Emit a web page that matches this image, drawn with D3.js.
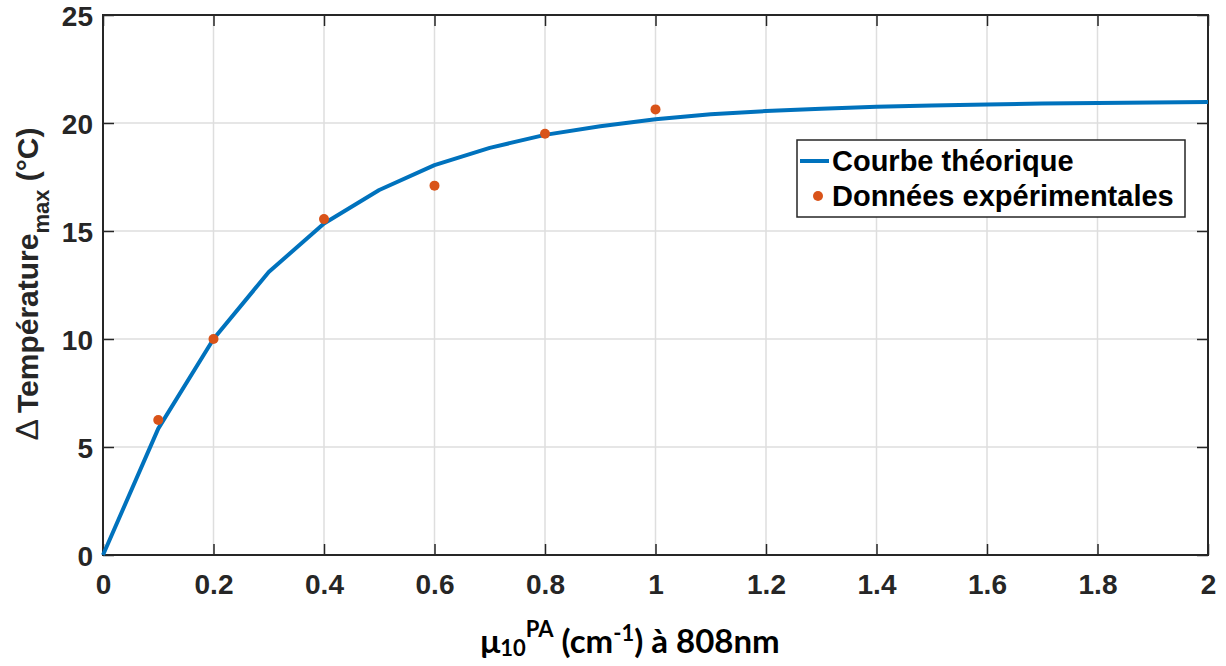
<!DOCTYPE html>
<html><head><meta charset="utf-8">
<script src="https://cdn.jsdelivr.net/npm/d3@7"></script>
<style>body{margin:0;background:#fff}</style>
</head><body>
<svg id="c" width="1226" height="666"></svg>
<script>
const curveX = [0,0.1,0.2,0.3,0.4,0.5,0.6,0.7,0.8,0.9,1.0,1.1,1.2,1.3,1.4,1.5,1.6,1.7,1.8,1.9,2.0];
const curveY = [0,5.85,10.0,13.1,15.35,16.9,18.05,18.85,19.45,19.85,20.17,20.4,20.55,20.66,20.75,20.81,20.86,20.9,20.93,20.95,20.97];
const expX = [0.1,0.2,0.4,0.6,0.8,1.0];
const expY = [6.25,10.0,15.55,17.1,19.5,20.63];
const xTicks = [0,0.2,0.4,0.6,0.8,1,1.2,1.4,1.6,1.8,2];
const yTicks = [0,5,10,15,20,25];
const legendLabels = ["Courbe théorique","Données expérimentales"];

const svg = d3.select("#c");
const L=103, R=1208, T=15, B=555;
const x = d3.scaleLinear().domain([0,2]).range([L,R]);
const y = d3.scaleLinear().domain([0,25]).range([B,T]);
const axisCol = "#262626";
const font = "'Liberation Sans', Arial, sans-serif";

// grid
svg.append("g").selectAll("line").data(xTicks.slice(1,-1)).join("line")
  .attr("x1",d=>x(d)).attr("x2",d=>x(d)).attr("y1",T).attr("y2",B)
  .attr("stroke","#dedede").attr("stroke-width",1.5);
svg.append("g").selectAll("line").data(yTicks.slice(1,-1)).join("line")
  .attr("y1",d=>y(d)).attr("y2",d=>y(d)).attr("x1",L).attr("x2",R)
  .attr("stroke","#dedede").attr("stroke-width",1.5);

// axes with inward ticks on all sides
const tl = 11;
function styleAxis(g){
  g.select(".domain").remove();
  g.selectAll(".tick line").attr("stroke",axisCol).attr("stroke-width",1.5);
  g.selectAll(".tick text").attr("fill",axisCol).attr("font-family",font).attr("font-weight","bold").attr("font-size","28px");
}
svg.append("g").attr("transform",`translate(0,${B})`)
  .call(d3.axisBottom(x).tickValues(xTicks).tickFormat(d3.format("~g")).tickSizeInner(-tl))
  .call(styleAxis).call(g=>g.selectAll(".tick text").attr("dy","0").attr("y",39));
svg.append("g").attr("transform",`translate(0,${T})`)
  .call(d3.axisTop(x).tickValues(xTicks).tickFormat("").tickSizeInner(-tl)).call(styleAxis);
svg.append("g").attr("transform",`translate(${L},0)`)
  .call(d3.axisLeft(y).tickValues(yTicks).tickSizeInner(-tl))
  .call(styleAxis).call(g=>g.selectAll(".tick text").attr("x",-10).attr("dy","0.36em"));
svg.append("g").attr("transform",`translate(${R},0)`)
  .call(d3.axisRight(y).tickValues(yTicks).tickFormat("").tickSizeInner(-tl)).call(styleAxis);

svg.append("rect").attr("x",L).attr("y",T).attr("width",R-L).attr("height",B-T)
  .attr("fill","none").attr("stroke",axisCol).attr("stroke-width",2);

// curve
const line = d3.line().x((d,i)=>x(curveX[i])).y(d=>y(d));
svg.append("path").datum(curveY).attr("d",line).attr("fill","none")
  .attr("stroke","#0072BD").attr("stroke-width",4).attr("stroke-linejoin","round");
// points
svg.append("g").selectAll("circle").data(expY).join("circle")
  .attr("cx",(d,i)=>x(expX[i])).attr("cy",d=>y(d)).attr("r",5).attr("fill","#D95319");

// legend
const lg = svg.append("g");
lg.append("rect").attr("x",797).attr("y",140).attr("width",388).attr("height",77)
  .attr("fill","#fff").attr("stroke",axisCol).attr("stroke-width",1.5);
lg.append("line").attr("x1",800).attr("x2",829).attr("y1",161).attr("y2",161)
  .attr("stroke","#0072BD").attr("stroke-width",4);
lg.append("circle").attr("cx",818).attr("cy",196).attr("r",5).attr("fill","#D95319");
lg.selectAll("text").data(legendLabels).join("text")
  .attr("x",832).attr("y",(d,i)=>[171,206][i]).text(d=>d)
  .attr("font-family",font).attr("font-weight","bold").attr("font-size","29px").attr("fill","#000");

// y label
const yl = svg.append("text").attr("transform","translate(38,284) rotate(-90)")
  .attr("text-anchor","middle").attr("font-family",font).attr("font-weight","bold")
  .attr("font-size","30px").attr("fill",axisCol);
yl.append("tspan").text("\u0394").attr("font-weight","normal").attr("font-size","32px");
yl.append("tspan").text("\u2009Température");
yl.append("tspan").text("max").attr("font-size","22px").attr("dy",11);
yl.append("tspan").text(" (°C)").attr("dy",-11);

// x label
const xl = svg.append("text").attr("x",630).attr("y",653).attr("text-anchor","middle")
  .attr("font-family","Lato, 'Open Sans', sans-serif").attr("font-weight","bold")
  .attr("font-size","33px").attr("fill","#000");
xl.append("tspan").text("\u03bc");
xl.append("tspan").text("10").attr("font-size","22px").attr("dy",3);
xl.append("tspan").text("PA").attr("font-size","22px").attr("dy",-19);
xl.append("tspan").text(" (cm").attr("font-size","33px").attr("dy",16);
xl.append("tspan").text("-1").attr("font-size","22px").attr("dy",-12);
xl.append("tspan").text(") à 808nm").attr("font-size","33px").attr("dy",12);
</script>
</body></html>
